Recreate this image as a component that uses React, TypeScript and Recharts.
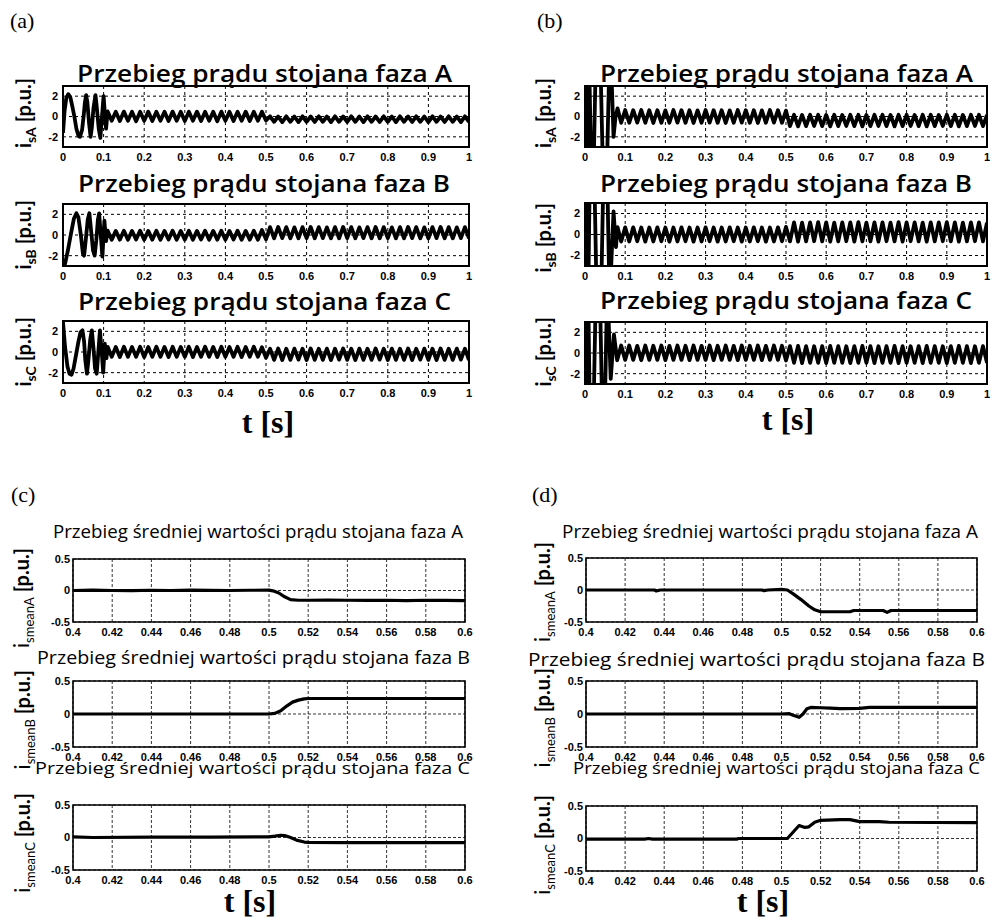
import React from "react";
import { LineChart, Line, XAxis, YAxis, CartesianGrid, ReferenceArea } from "recharts";

// ---------- axis ticks ----------
const X_TICKS_FULL = [0, 0.1, 0.2, 0.3, 0.4, 0.5, 0.6, 0.7, 0.8, 0.9, 1];
const Y_TICKS_FULL = [-2, 0, 2];
const X_TICKS_ZOOM = [0.4, 0.42, 0.44, 0.46, 0.48, 0.5, 0.52, 0.54, 0.56, 0.58, 0.6];
const Y_TICKS_ZOOM = [-0.5, 0, 0.5];

// ---------- time bases for the steady-state (half-cycle extremes, 50 Hz) ----------
const T_STEADY_A = [
  0.11, 0.12, 0.13, 0.14, 0.15, 0.16, 0.17, 0.18, 0.19, 0.2,
  0.21, 0.22, 0.23, 0.24, 0.25, 0.26, 0.27, 0.28, 0.29, 0.3,
  0.31, 0.32, 0.33, 0.34, 0.35, 0.36, 0.37, 0.38, 0.39, 0.4,
  0.41, 0.42, 0.43, 0.44, 0.45, 0.46, 0.47, 0.48, 0.49, 0.5,
  0.51, 0.52, 0.53, 0.54, 0.55, 0.56, 0.57, 0.58, 0.59, 0.6,
  0.61, 0.62, 0.63, 0.64, 0.65, 0.66, 0.67, 0.68, 0.69, 0.7,
  0.71, 0.72, 0.73, 0.74, 0.75, 0.76, 0.77, 0.78, 0.79, 0.8,
  0.81, 0.82, 0.83, 0.84, 0.85, 0.86, 0.87, 0.88, 0.89, 0.9,
  0.91, 0.92, 0.93, 0.94, 0.95, 0.96, 0.97, 0.98, 0.99, 1.0,
];
const T_STEADY_B = [0.09, 0.1, ...T_STEADY_A];

// ---------- panel (a) : stator currents ----------
const A_PA_TR_T = [0, 0.004, 0.008, 0.013, 0.018, 0.023, 0.028, 0.033, 0.038, 0.042, 0.047, 0.051, 0.054, 0.057, 0.06, 0.064, 0.068, 0.071, 0.075, 0.08, 0.083, 0.088, 0.092, 0.096, 0.1, 0.103, 0.106];
const A_PA_TR_V = [-1.6, 0.6, 1.8, 2.2, 1.9, 1.0, 0.0, -1.2, -1.9, -2.0, -1.3, 0.1, 1.4, 2.1, 1.4, -0.6, -2.0, -1.1, 0.8, 2.1, 1.0, -1.2, -2.1, 0.0, 2.0, 0.3, -1.2];
const A_PA_SS = [
  0.5, -0.42, 0.46, -0.45, 0.48, -0.42, 0.46, -0.46, 0.46, -0.42,
  0.48, -0.44, 0.46, -0.42, 0.46, -0.45, 0.48, -0.42, 0.46, -0.44,
  0.46, -0.42, 0.48, -0.45, 0.46, -0.42, 0.46, -0.46, 0.48, -0.42,
  0.46, -0.45, 0.46, -0.42, 0.48, -0.44, 0.46, -0.42, 0.46, -0.38,
  0.02, -0.52, 0.0, -0.55, 0.02, -0.52, 0.0, -0.55, 0.02, -0.52,
  0.0, -0.54, 0.02, -0.52, 0.0, -0.55, 0.02, -0.52, 0.0, -0.54,
  0.02, -0.52, 0.0, -0.55, 0.02, -0.52, 0.0, -0.54, 0.02, -0.52,
  0.0, -0.55, 0.02, -0.52, 0.0, -0.54, 0.02, -0.52, 0.0, -0.55,
  0.02, -0.52, 0.0, -0.54, 0.02, -0.52, 0.0, -0.55, 0.02, -0.52,
];

const A_PB_TR_T = [0, 0.005, 0.012, 0.02, 0.027, 0.033, 0.038, 0.044, 0.049, 0.052, 0.056, 0.061, 0.065, 0.069, 0.074, 0.078, 0.082, 0.086, 0.089, 0.093, 0.097, 0.1, 0.102, 0.106];
const A_PB_TR_V = [-3.2, -2.8, -1.5, 0.2, 1.6, 2.1, 1.7, 0.0, -1.8, -2.0, -0.5, 1.5, 2.1, 0.5, -1.5, -2.0, -0.5, 1.5, 2.1, 0.0, -2.1, 0.0, 1.4, -0.6];
const A_PB_SS = [
  0.42, -0.46, 0.4, -0.45, 0.42, -0.46, 0.4, -0.44, 0.42, -0.46,
  0.4, -0.45, 0.42, -0.46, 0.4, -0.44, 0.42, -0.46, 0.4, -0.45,
  0.42, -0.46, 0.4, -0.44, 0.42, -0.46, 0.4, -0.45, 0.42, -0.46,
  0.4, -0.44, 0.42, -0.46, 0.4, -0.45, 0.42, -0.46, 0.48, -0.42,
  0.76, -0.32, 0.78, -0.3, 0.76, -0.32, 0.74, -0.32, 0.76, -0.3,
  0.78, -0.32, 0.76, -0.3, 0.74, -0.32, 0.76, -0.32, 0.78, -0.3,
  0.76, -0.32, 0.74, -0.3, 0.76, -0.32, 0.78, -0.32, 0.76, -0.3,
  0.74, -0.32, 0.76, -0.32, 0.78, -0.3, 0.76, -0.32, 0.74, -0.32,
  0.76, -0.3, 0.78, -0.32, 0.76, -0.32, 0.74, -0.3, 0.76, -0.32,
];

const A_PC_TR_T = [0, 0.005, 0.011, 0.016, 0.021, 0.026, 0.032, 0.038, 0.043, 0.048, 0.052, 0.055, 0.059, 0.063, 0.067, 0.071, 0.075, 0.079, 0.083, 0.087, 0.091, 0.095, 0.099, 0.103, 0.107];
const A_PC_TR_V = [2.9, 0.5, -1.4, -2.1, -2.2, -1.6, -0.3, 1.0, 1.9, 2.1, 1.0, -0.8, -2.1, -0.6, 1.2, 2.1, 0.4, -1.6, -2.1, 0.0, 2.1, 0.2, -2.0, 0.8, -0.6];
const A_PC_SS = [
  0.5, -0.47, 0.48, -0.48, 0.5, -0.47, 0.49, -0.47, 0.5, -0.48,
  0.48, -0.47, 0.5, -0.47, 0.49, -0.48, 0.5, -0.47, 0.48, -0.47,
  0.5, -0.48, 0.49, -0.47, 0.5, -0.47, 0.48, -0.48, 0.5, -0.47,
  0.49, -0.47, 0.5, -0.48, 0.48, -0.47, 0.5, -0.47, 0.46, -0.56,
  0.32, -0.76, 0.34, -0.78, 0.32, -0.76, 0.33, -0.74, 0.32, -0.78,
  0.34, -0.76, 0.32, -0.76, 0.33, -0.78, 0.32, -0.74, 0.34, -0.76,
  0.32, -0.78, 0.33, -0.76, 0.32, -0.76, 0.34, -0.74, 0.32, -0.78,
  0.33, -0.76, 0.32, -0.76, 0.34, -0.78, 0.32, -0.74, 0.33, -0.76,
  0.32, -0.78, 0.34, -0.76, 0.32, -0.76, 0.33, -0.74, 0.32, -0.78,
];

// ---------- panel (b) : stator currents (transient runs far beyond the +/-3 window) ----------
const B_PA_TR_T = [0, 0.006, 0.01, 0.016, 0.021, 0.027, 0.038, 0.045, 0.054, 0.061, 0.066, 0.071, 0.076, 0.081];
const B_PA_TR_V = [6, -6, 6, -6, -6, 6, 6, -6, -6, 6, 4, -2.0, 0.0, 0.8];
const B_PA_SS = [
  -0.62, 0.64,
  -0.62, 0.62, -0.6, 0.64, -0.62, 0.62, -0.64, 0.62, -0.62, 0.6,
  -0.62, 0.64, -0.6, 0.62, -0.62, 0.62, -0.64, 0.6, -0.62, 0.64,
  -0.6, 0.62, -0.62, 0.62, -0.64, 0.6, -0.62, 0.64, -0.6, 0.62,
  -0.62, 0.62, -0.64, 0.6, -0.62, 0.64, -0.6, 0.62, -0.62, 0.58,
  -0.95, 0.17, -0.97, 0.15, -0.95, 0.17, -0.93, 0.17, -0.95, 0.15,
  -0.97, 0.17, -0.95, 0.15, -0.93, 0.17, -0.95, 0.17, -0.97, 0.15,
  -0.95, 0.17, -0.93, 0.17, -0.95, 0.15, -0.97, 0.17, -0.95, 0.17,
  -0.93, 0.15, -0.95, 0.17, -0.97, 0.17, -0.95, 0.15, -0.93, 0.17,
  -0.95, 0.17, -0.97, 0.15, -0.95, 0.17, -0.93, 0.17, -0.95, 0.15,
];

const B_PB_TR_T = [0, 0.004, 0.008, 0.012, 0.023, 0.029, 0.04, 0.046, 0.055, 0.061, 0.064, 0.071, 0.077, 0.081];
const B_PB_TR_V = [-6, 6, -6, 6, 6, -6, -6, 6, 6, -6, -4, 2.2, -1.2, 0.7];
const B_PB_SS = [
  -0.67, 0.68,
  -0.67, 0.68, -0.65, 0.67, -0.68, 0.67, -0.67, 0.68, -0.65, 0.67,
  -0.68, 0.67, -0.67, 0.68, -0.65, 0.67, -0.68, 0.67, -0.67, 0.68,
  -0.65, 0.67, -0.68, 0.67, -0.67, 0.68, -0.65, 0.67, -0.68, 0.67,
  -0.67, 0.68, -0.65, 0.67, -0.68, 0.67, -0.67, 0.68, -0.65, 0.72,
  -0.66, 1.15, -0.68, 1.13, -0.66, 1.15, -0.64, 1.17, -0.66, 1.15,
  -0.68, 1.13, -0.66, 1.15, -0.64, 1.15, -0.68, 1.17, -0.66, 1.13,
  -0.66, 1.15, -0.68, 1.15, -0.64, 1.13, -0.66, 1.17, -0.68, 1.15,
  -0.64, 1.15, -0.66, 1.13, -0.68, 1.15, -0.66, 1.15, -0.64, 1.17,
  -0.66, 1.15, -0.68, 1.13, -0.66, 1.15, -0.64, 1.15, -0.66, 1.13,
];

const B_PC_TR_T = [0, 0.004, 0.008, 0.012, 0.021, 0.027, 0.037, 0.043, 0.049, 0.055, 0.058, 0.064, 0.072, 0.08];
const B_PC_TR_V = [6, -6, 6, -6, -6, 6, 6, -6, -6, 6, 4, -2.5, 1.8, -0.7];
const B_PC_SS = [
  0.72, -0.67,
  0.72, -0.67, 0.69, -0.69, 0.72, -0.67, 0.7, -0.67, 0.72, -0.69,
  0.69, -0.67, 0.72, -0.67, 0.7, -0.69, 0.72, -0.67, 0.69, -0.67,
  0.72, -0.69, 0.7, -0.67, 0.72, -0.67, 0.69, -0.69, 0.72, -0.67,
  0.7, -0.67, 0.72, -0.69, 0.69, -0.67, 0.72, -0.67, 0.7, -0.72,
  0.67, -0.96, 0.69, -0.98, 0.67, -0.96, 0.65, -0.96, 0.67, -0.98,
  0.69, -0.96, 0.67, -0.96, 0.65, -0.98, 0.67, -0.96, 0.69, -0.96,
  0.67, -0.98, 0.65, -0.96, 0.67, -0.96, 0.69, -0.98, 0.67, -0.96,
  0.65, -0.96, 0.67, -0.98, 0.69, -0.96, 0.67, -0.96, 0.65, -0.98,
  0.67, -0.96, 0.69, -0.96, 0.67, -0.98, 0.65, -0.96, 0.67, -0.96,
];

// ---------- panel (c) : mean values ----------
const C_PA_T = [0.4, 0.41, 0.42, 0.43, 0.44, 0.45, 0.46, 0.47, 0.48, 0.49, 0.5, 0.502, 0.505, 0.508, 0.511, 0.515, 0.52, 0.53, 0.54, 0.55, 0.56, 0.57, 0.58, 0.59, 0.6];
const C_PA_V = [0, 0.005, 0, -0.003, 0.004, 0, 0.005, 0.002, 0, 0.004, 0.005, -0.005, -0.04, -0.1, -0.145, -0.155, -0.155, -0.152, -0.155, -0.158, -0.155, -0.16, -0.155, -0.158, -0.16];
const C_PB_T = [0.4, 0.45, 0.5, 0.503, 0.506, 0.509, 0.512, 0.515, 0.518, 0.52, 0.54, 0.56, 0.58, 0.6];
const C_PB_V = [0, 0, 0, 0.01, 0.05, 0.12, 0.18, 0.21, 0.23, 0.235, 0.235, 0.235, 0.235, 0.235];
const C_PC_T = [0.4, 0.41, 0.44, 0.47, 0.5, 0.503, 0.506, 0.508, 0.511, 0.514, 0.518, 0.52, 0.54, 0.56, 0.58, 0.6];
const C_PC_V = [0.01, 0.0, 0.005, 0.005, 0.01, 0.02, 0.035, 0.03, 0.0, -0.04, -0.07, -0.075, -0.08, -0.08, -0.08, -0.08];

// ---------- panel (d) : mean values ----------
const D_PA_T = [0.4, 0.435, 0.436, 0.438, 0.49, 0.491, 0.493, 0.5, 0.503, 0.506, 0.51, 0.514, 0.517, 0.52, 0.535, 0.537, 0.552, 0.554, 0.556, 0.6];
const D_PA_V = [0, 0, -0.015, 0, 0, -0.01, 0, 0.01, 0, -0.06, -0.15, -0.25, -0.31, -0.34, -0.34, -0.32, -0.32, -0.35, -0.32, -0.32];
const D_PB_T = [0.4, 0.45, 0.5, 0.504, 0.506, 0.509, 0.511, 0.513, 0.515, 0.52, 0.525, 0.53, 0.54, 0.545, 0.6];
const D_PB_V = [0, 0, 0, 0.005, -0.02, -0.05, 0, 0.08, 0.1, 0.095, 0.09, 0.08, 0.085, 0.1, 0.1];
const D_PC_T = [0.4, 0.43, 0.432, 0.434, 0.477, 0.478, 0.5, 0.503, 0.506, 0.509, 0.512, 0.514, 0.517, 0.52, 0.53, 0.535, 0.54, 0.55, 0.555, 0.6];
const D_PC_V = [-0.01, -0.01, 0, -0.01, -0.01, 0, 0, 0, 0.1, 0.2, 0.17, 0.18, 0.25, 0.28, 0.29, 0.29, 0.26, 0.26, 0.25, 0.245];

type Pt = { t: number; v: number };
const build = (parts: [number[], number[]][]): Pt[] => {
  const out: Pt[] = [];
  parts.forEach(([ts, vs]) => ts.forEach((t, i) => out.push({ t, v: vs[i] })));
  return out;
};

const TICK_STYLE = { fontFamily: "'Liberation Sans', Arial, sans-serif", fontWeight: 700, fontSize: 11, fill: "#000" };

interface PlotProps {
  data: Pt[];
  left: number; top: number; width: number; height: number;
  full: boolean;
  mr?: number;
}

function Plot(p: PlotProps) {
  const MT = 9;
  const XH = 22;
  const MR = p.mr ?? 10;
  const YW = p.full ? 30 : 35;
  const xDom: [number, number] = p.full ? [0, 1] : [0.4, 0.6];
  const yDom: [number, number] = p.full ? [-3, 3] : [-0.5, 0.5];
  return (
    <div style={{ position: "absolute", left: p.left - YW, top: p.top - MT }}>
      <LineChart
        width={YW + p.width + MR}
        height={MT + p.height + XH}
        data={p.data}
        margin={{ top: MT, right: MR, bottom: 0, left: 0 }}
      >
        <CartesianGrid
          stroke="#000"
          strokeDasharray={p.full ? "3 3" : "3 2"}
          strokeWidth={p.full ? 1 : 0.8}
        />
        <XAxis
          dataKey="t"
          type="number"
          domain={xDom}
          ticks={p.full ? X_TICKS_FULL : X_TICKS_ZOOM}
          interval={0}
          height={XH}
          axisLine={false}
          tickLine={false}
          tickSize={p.full ? 4 : 4}
          tickMargin={2}
          tick={TICK_STYLE}
          allowDataOverflow
        />
        <YAxis
          type="number"
          domain={yDom}
          ticks={p.full ? Y_TICKS_FULL : Y_TICKS_ZOOM}
          interval={0}
          width={YW}
          axisLine={false}
          tickLine={false}
          tickSize={p.full ? 3 : 1}
          tickMargin={2}
          tick={TICK_STYLE}
          allowDataOverflow
        />
        <Line
          dataKey="v"
          type="linear"
          stroke="#000"
          strokeWidth={p.full ? 3.8 : 3.2}
          strokeLinejoin="round"
          dot={false}
          activeDot={false}
          isAnimationActive={false}
        />
        <ReferenceArea
          x1={xDom[0]}
          x2={xDom[1]}
          y1={yDom[0]}
          y2={yDom[1]}
          fill="none"
          fillOpacity={0}
          stroke="#000"
          strokeWidth={p.full ? 2 : 1.6}
        />
      </LineChart>
    </div>
  );
}

const TITLE_FONT = "'Open Sans', Lato, sans-serif";
const LABEL_FONT = "Lato, 'Open Sans', sans-serif";

function Title(props: { x1: number; x2: number; y: number; size: number; weight: number; children: string }) {
  return (
    <text
      x={(props.x1 + props.x2) / 2}
      y={props.y}
      textAnchor="middle"
      textLength={props.x2 - props.x1}
      lengthAdjust="spacingAndGlyphs"
      fontFamily={TITLE_FONT}
      fontSize={props.size}
      fontWeight={props.weight}
      fill="#000"
    >
      {props.children}
    </text>
  );
}

function YLabFull(props: { bx: number; top: number; sub: string }) {
  return (
    <text transform={`translate(${props.bx},${props.top}) rotate(-90)`} textAnchor="end" fontFamily={LABEL_FONT} fontWeight={700} fill="#000">
      <tspan fontSize={20}>i</tspan>
      <tspan fontSize={14} dy={5}>{props.sub}</tspan>
      <tspan fontSize={20} dy={-5} dx={5}>[p.u.]</tspan>
    </text>
  );
}

function YLabMean(props: { bx: number; top: number; sub: string }) {
  return (
    <text transform={`translate(${props.bx},${props.top}) rotate(-90)`} textAnchor="end" fontFamily={LABEL_FONT} fill="#000">
      <tspan fontSize={21} fontWeight={400}>i</tspan>
      <tspan fontSize={13} fontWeight={400} dy={5}>{props.sub}</tspan>
      <tspan fontSize={20} fontWeight={700} dy={-5} dx={5}>[p.u.]</tspan>
    </text>
  );
}

const SERIF = "'Liberation Serif', 'DejaVu Serif', serif";

export default function App() {
  const aA = build([[A_PA_TR_T, A_PA_TR_V], [T_STEADY_A, A_PA_SS]]);
  const aB = build([[A_PB_TR_T, A_PB_TR_V], [T_STEADY_A, A_PB_SS]]);
  const aC = build([[A_PC_TR_T, A_PC_TR_V], [T_STEADY_A, A_PC_SS]]);
  const bA = build([[B_PA_TR_T, B_PA_TR_V], [T_STEADY_B, B_PA_SS]]);
  const bB = build([[B_PB_TR_T, B_PB_TR_V], [T_STEADY_B, B_PB_SS]]);
  const bC = build([[B_PC_TR_T, B_PC_TR_V], [T_STEADY_B, B_PC_SS]]);
  const cA = build([[C_PA_T, C_PA_V]]);
  const cB = build([[C_PB_T, C_PB_V]]);
  const cC = build([[C_PC_T, C_PC_V]]);
  const dA = build([[D_PA_T, D_PA_V]]);
  const dB = build([[D_PB_T, D_PB_V]]);
  const dC = build([[D_PC_T, D_PC_V]]);

  return (
    <div style={{ position: "absolute", left: 0, top: 0, width: 992, height: 921, overflow: "hidden", background: "#fff" }}>
      {/* (a) */}
      <Plot data={aA} left={63} top={86} width={406} height={61} full />
      <Plot data={aB} left={63} top={204} width={406} height={62} full />
      <Plot data={aC} left={63} top={321} width={406} height={62} full />
      {/* (b) */}
      <Plot data={bA} left={585} top={86} width={402} height={61} full mr={5} />
      <Plot data={bB} left={585} top={203} width={402} height={63} full mr={5} />
      <Plot data={bC} left={585} top={322} width={402} height={62} full mr={5} />
      {/* (c) */}
      <Plot data={cA} left={73} top={559} width={392} height={63} full={false} />
      <Plot data={cB} left={73} top={681} width={392} height={66} full={false} />
      <Plot data={cC} left={73} top={805} width={392} height={65} full={false} />
      {/* (d) */}
      <Plot data={dA} left={586} top={558} width={391} height={64} full={false} />
      <Plot data={dB} left={586} top={681} width={391} height={66} full={false} />
      <Plot data={dC} left={586} top={806} width={391} height={65} full={false} />

      <svg width={992} height={921} style={{ position: "absolute", left: 0, top: 0, pointerEvents: "none" }}>
        <text x={10} y={28} fontFamily={SERIF} fontSize={22} fill="#000">(a)</text>
        <text x={537} y={28} fontFamily={SERIF} fontSize={22} fill="#000">(b)</text>
        <text x={11} y={502} fontFamily={SERIF} fontSize={22} fill="#000">(c)</text>
        <text x={532} y={502} fontFamily={SERIF} fontSize={22} fill="#000">(d)</text>

        <Title x1={77} x2={452} y={82} size={24} weight={600}>Przebieg prądu stojana faza A</Title>
        <Title x1={78} x2={450} y={192} size={24} weight={600}>Przebieg prądu stojana faza B</Title>
        <Title x1={78} x2={451} y={310} size={24} weight={600}>Przebieg prądu stojana faza C</Title>
        <Title x1={600} x2={973} y={82} size={24} weight={600}>Przebieg prądu stojana faza A</Title>
        <Title x1={600} x2={972} y={192} size={24} weight={600}>Przebieg prądu stojana faza B</Title>
        <Title x1={600} x2={972} y={309} size={24} weight={600}>Przebieg prądu stojana faza C</Title>

        <Title x1={53} x2={463} y={538} size={18} weight={400}>Przebieg średniej wartości prądu stojana faza A</Title>
        <Title x1={37} x2={470} y={664} size={18} weight={400}>Przebieg średniej wartości prądu stojana faza B</Title>
        <Title x1={35} x2={470} y={774} size={17} weight={400}>Przebieg średniej wartości prądu stojana faza C</Title>
        <Title x1={562} x2={978} y={538} size={18} weight={400}>Przebieg średniej wartości prądu stojana faza A</Title>
        <Title x1={528} x2={985} y={666} size={18} weight={400}>Przebieg średniej wartości prądu stojana faza B</Title>
        <Title x1={573} x2={980} y={774} size={17} weight={400}>Przebieg średniej wartości prądu stojana faza C</Title>

        <YLabFull bx={31} top={78} sub="sA" />
        <YLabFull bx={31} top={200} sub="sB" />
        <YLabFull bx={31} top={317} sub="sC" />
        <YLabFull bx={551} top={78} sub="sA" />
        <YLabFull bx={551} top={203} sub="sB" />
        <YLabFull bx={551} top={317} sub="sC" />

        <YLabMean bx={29} top={548} sub="smeanA" />
        <YLabMean bx={30} top={670} sub="smeanB" />
        <YLabMean bx={30} top={793} sub="smeanC" />
        <YLabMean bx={550} top={542} sub="smeanA" />
        <YLabMean bx={550} top={668} sub="smeanB" />
        <YLabMean bx={550} top={795} sub="smeanC" />

        <text x={268} y={433} textAnchor="middle" fontFamily={SERIF} fontWeight={700} fontSize={32} fill="#000">t [s]</text>
        <text x={788} y={430} textAnchor="middle" fontFamily={SERIF} fontWeight={700} fontSize={32} fill="#000">t [s]</text>
        <text x={250} y={912} textAnchor="middle" fontFamily={SERIF} fontWeight={700} fontSize={32} fill="#000">t [s]</text>
        <text x={763} y={912} textAnchor="middle" fontFamily={SERIF} fontWeight={700} fontSize={32} fill="#000">t [s]</text>
      </svg>
    </div>
  );
}
